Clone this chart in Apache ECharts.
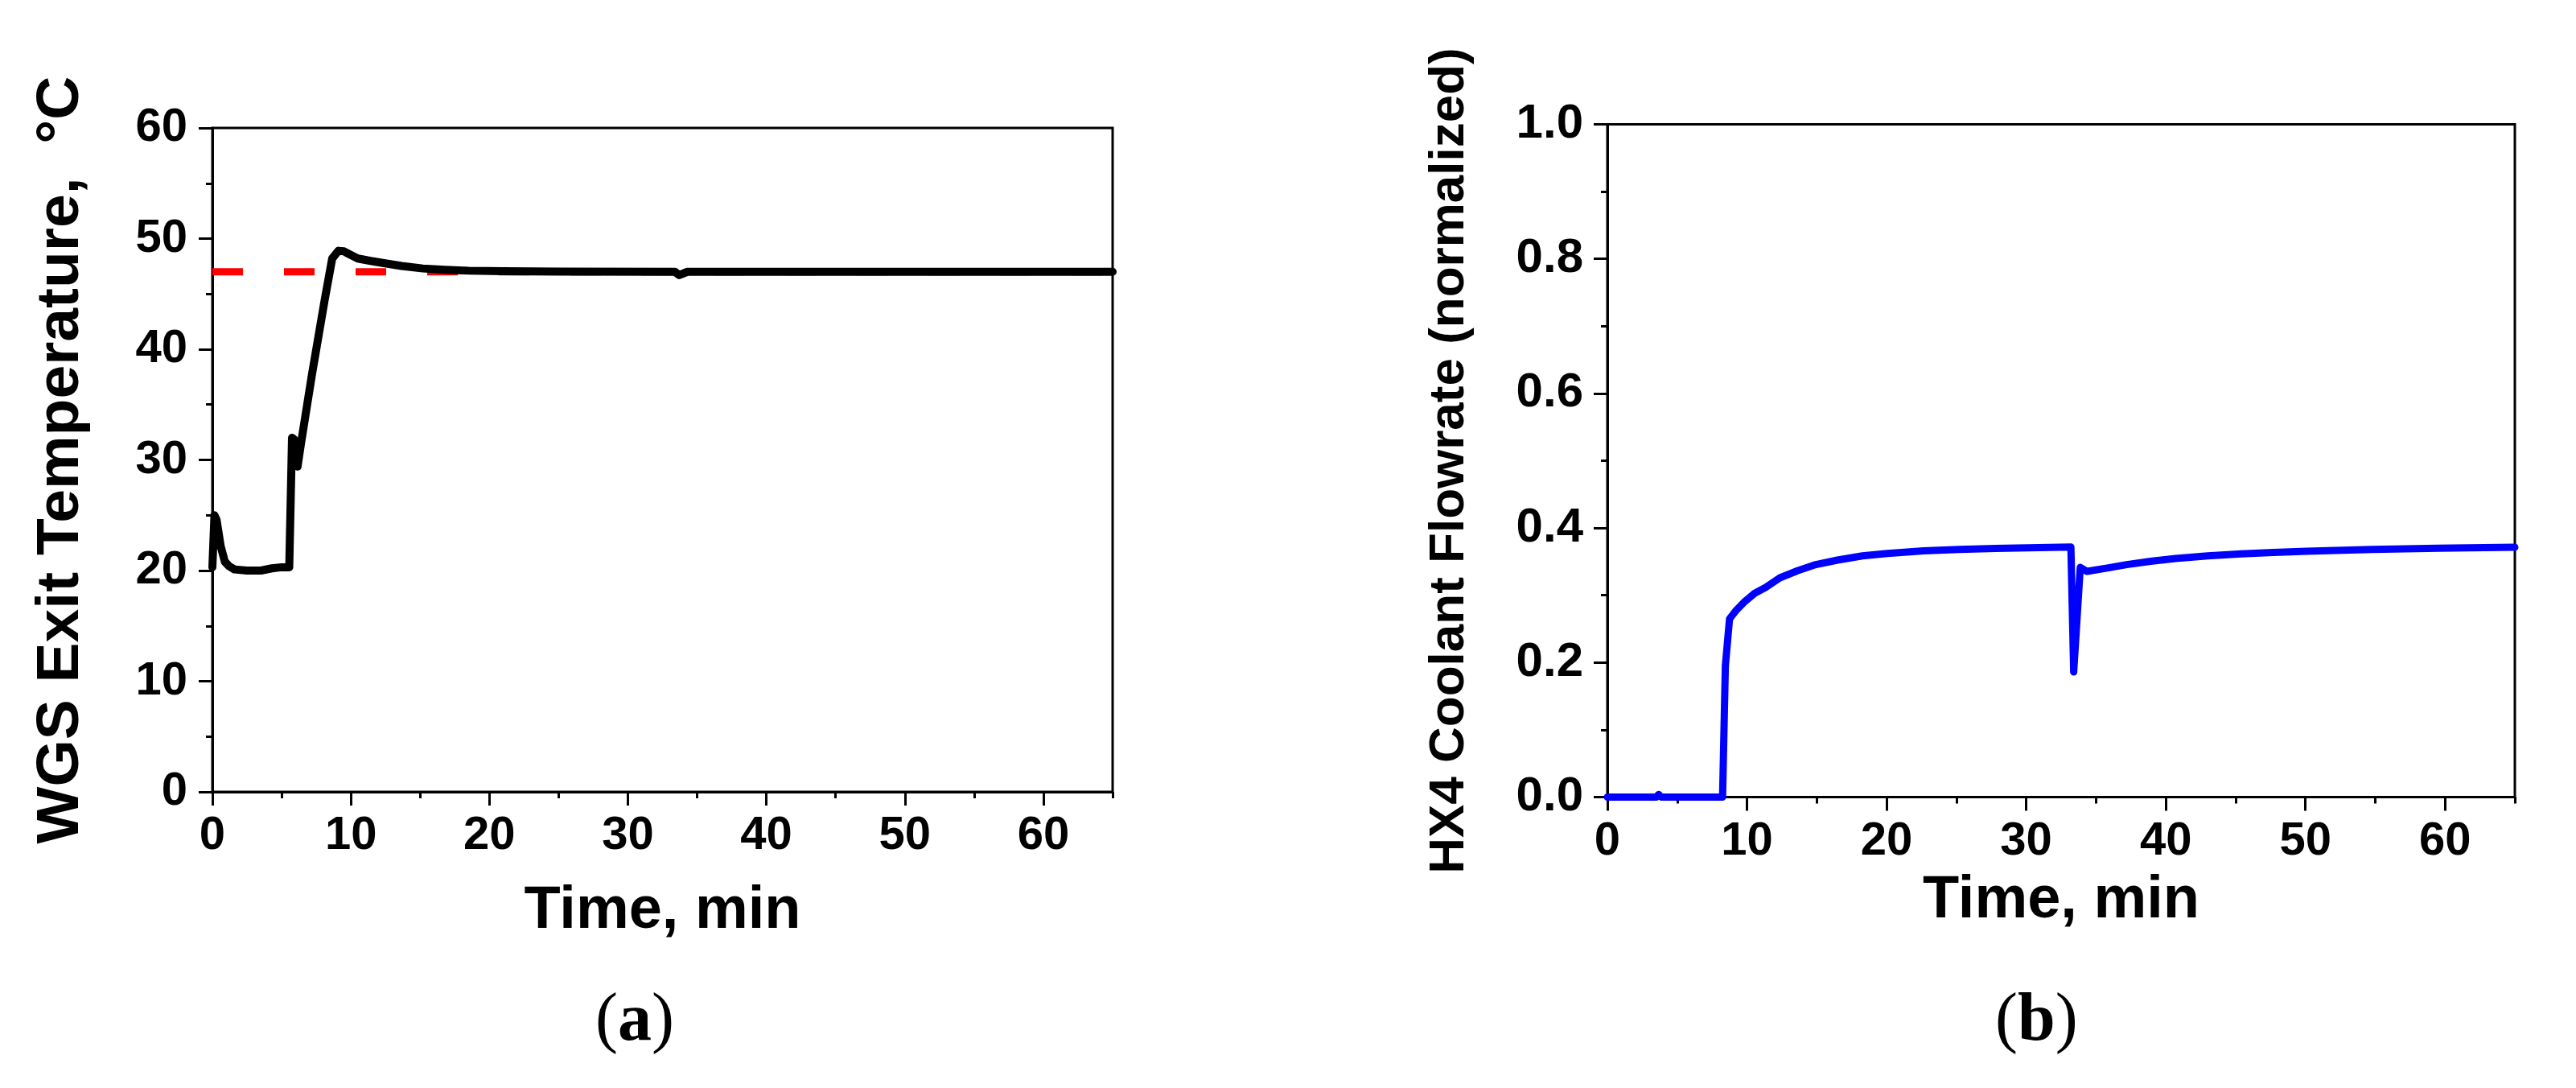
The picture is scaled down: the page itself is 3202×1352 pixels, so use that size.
<!DOCTYPE html>
<html>
<head>
<meta charset="utf-8">
<script src="https://cdn.jsdelivr.net/npm/echarts@6/dist/echarts.min.js"></script>
<style>
html,body{margin:0;padding:0;background:#fff;}
#chart{width:3202px;height:1352px;}
</style>
</head>
<body>
<div id="chart"></div>
<script>
// ---- Data ----
// Panel (a): WGS exit temperature, °C vs time, min
const tempTime = [0, 0.15, 0.3, 0.6, 0.9, 1.2, 1.6, 2.5, 3.5, 4.3, 5.0, 5.55, 5.75, 5.95, 6.15, 6.4, 7.2, 8.1, 8.65, 9.1, 9.5, 9.87, 10.5, 11.43, 12.3, 13.66, 15.2, 16.77, 18.5, 21, 25, 33.4, 33.7, 34.3, 45, 55, 65];
const tempValue = [20.3, 25.0, 24.6, 22.2, 20.8, 20.4, 20.1, 20.0, 20.0, 20.2, 20.3, 20.3, 32.0, 31.8, 29.4, 31.5, 37.8, 44.4, 48.2, 48.9, 48.85, 48.6, 48.2, 47.98, 47.8, 47.53, 47.3, 47.19, 47.1, 47.05, 47.02, 47.0, 46.7, 47.0, 47.0, 47.0, 47.0];
// Set point (red dashed)
const setPointTime = [0, 65];
const setPointValue = [47, 47];

// Panel (b): HX4 coolant flowrate (normalized) vs time, min
const flowTime = [0, 3.5, 3.67, 3.85, 8.25, 8.45, 8.75, 9.2, 9.79, 10.55, 11.33, 12.36, 13.65, 14.93, 16.48, 18.27, 20.06, 22.65, 25.2, 27.8, 33.2, 33.4, 33.87, 34.35, 35.8, 37.2, 38.9, 40.7, 43, 45.4, 47.7, 50.1, 54.8, 59.5, 65];
const flowValue = [0, 0, 0.004, 0, 0, 0.195, 0.265, 0.277, 0.2897, 0.303, 0.3116, 0.326, 0.3367, 0.3456, 0.3523, 0.3586, 0.3622, 0.366, 0.368, 0.3695, 0.3717, 0.186, 0.3415, 0.3355, 0.3405, 0.3455, 0.3505, 0.3547, 0.3585, 0.3615, 0.3637, 0.3654, 0.3682, 0.370, 0.3714];

// Tick labels
const timeTicks = [0, 10, 20, 30, 40, 50, 60];
const tempTicks = [0, 10, 20, 30, 40, 50, 60];
const flowTicks = [0, 0.2, 0.4, 0.6, 0.8, 1.0];

const xName = 'Time, min';
const yNameA = 'WGS Exit Temperature,  °C';
const yNameB = 'HX4 Coolant Flowrate (normalized)';
const panelLabels = ['a', 'b'];

function pairs(xs, ys) { return xs.map((x, i) => [x, ys[i]]); }

const FONT = 'Liberation Sans';
const axisLineStyle = { color: '#000', width: 3 };

function majorX(grid, gap) {
  return {
    gridIndex: grid, type: 'value', min: 0, max: 65, interval: 10,
    name: xName, nameLocation: 'middle', nameGap: gap,
    nameTextStyle: { fontFamily: FONT, fontWeight: 'bold', fontSize: 74, color: '#000' },
    axisLine: { show: true, onZero: false, lineStyle: axisLineStyle },
    axisTick: { show: true, inside: false, length: 17, lineStyle: { width: 3, color: '#000' }, customValues: timeTicks },
    axisLabel: { show: true, margin: 26, fontFamily: FONT, fontWeight: 'bold', fontSize: 58, color: '#000', customValues: timeTicks },
    splitLine: { show: false }
  };
}
function minorX(grid) {
  return {
    gridIndex: grid, type: 'value', min: 0, max: 65, interval: 5, position: 'bottom',
    axisLine: { show: false, onZero: false },
    axisTick: { show: true, length: 8, lineStyle: { width: 3, color: '#000' } },
    axisLabel: { show: false },
    splitLine: { show: false }
  };
}
function panelLabel(letter, cx) {
  return {
    type: 'text', left: cx - 50, top: 1228,
    style: {
      text: '{p|(}{b|' + letter + '}{p|)}',
      rich: {
        p: { fontFamily: 'Liberation Serif', fontSize: 84, fill: '#000' },
        b: { fontFamily: 'Liberation Serif', fontWeight: 'bold', fontSize: 84, fill: '#000' }
      }
    }
  };
}

const option = {
  backgroundColor: '#fff',
  animation: false,
  grid: [
    { left: 264, top: 159, width: 1119, height: 825, show: true, borderColor: '#000', borderWidth: 3, backgroundColor: 'transparent', containLabel: false },
    { left: 1998, top: 154.5, width: 1128, height: 836, show: true, borderColor: '#000', borderWidth: 3, backgroundColor: 'transparent', containLabel: false }
  ],
  xAxis: [ majorX(0, 112), majorX(1, 92), minorX(0), minorX(1) ],
  yAxis: [
    {
      gridIndex: 0, type: 'value', min: 0, max: 60, interval: 10,
      name: yNameA, nameLocation: 'middle', nameGap: 150, nameRotate: 90,
      nameTextStyle: { fontFamily: FONT, fontWeight: 'bold', fontSize: 75, color: '#000' },
      axisLine: { show: true, onZero: false, lineStyle: axisLineStyle },
      axisTick: { show: true, length: 17, lineStyle: { width: 3, color: '#000' } },
      minorTick: { show: true, splitNumber: 2, length: 8, lineStyle: { width: 3, color: '#000' } },
      axisLabel: { margin: 31, fontFamily: FONT, fontWeight: 'bold', fontSize: 58, color: '#000', customValues: tempTicks },
      splitLine: { show: false }
    },
    {
      gridIndex: 1, type: 'value', min: 0, max: 1, interval: 0.2,
      name: yNameB, nameLocation: 'middle', nameGap: 165, nameRotate: 90,
      nameTextStyle: { fontFamily: FONT, fontWeight: 'bold', fontSize: 62, color: '#000' },
      axisLine: { show: true, onZero: false, lineStyle: axisLineStyle },
      axisTick: { show: true, length: 17, lineStyle: { width: 3, color: '#000' } },
      minorTick: { show: true, splitNumber: 2, length: 8, lineStyle: { width: 3, color: '#000' } },
      axisLabel: { margin: 30, fontFamily: FONT, fontWeight: 'bold', fontSize: 60, color: '#000', customValues: flowTicks,
        formatter: v => Number(v).toFixed(1) },
      splitLine: { show: false }
    }
  ],
  graphic: [ panelLabel(panelLabels[0], 790), panelLabel(panelLabels[1], 2530) ],
  series: [
    {
      type: 'line', xAxisIndex: 0, yAxisIndex: 0, data: pairs(setPointTime, setPointValue),
      showSymbol: false, z: 2,
      lineStyle: { color: '#ff0000', width: 9, type: [38, 51], cap: 'butt' }
    },
    {
      type: 'line', xAxisIndex: 0, yAxisIndex: 0, data: pairs(tempTime, tempValue),
      showSymbol: false, z: 3,
      lineStyle: { color: '#000', width: 10, cap: 'round', join: 'round' }
    },
    {
      type: 'line', xAxisIndex: 1, yAxisIndex: 1, data: pairs(flowTime, flowValue),
      showSymbol: false, z: 3,
      lineStyle: { color: '#0000ff', width: 9, cap: 'round', join: 'round' }
    }
  ]
};

const chart = echarts.init(document.getElementById('chart'), null, { renderer: 'canvas' });
chart.setOption(option);
</script>
</body>
</html>
